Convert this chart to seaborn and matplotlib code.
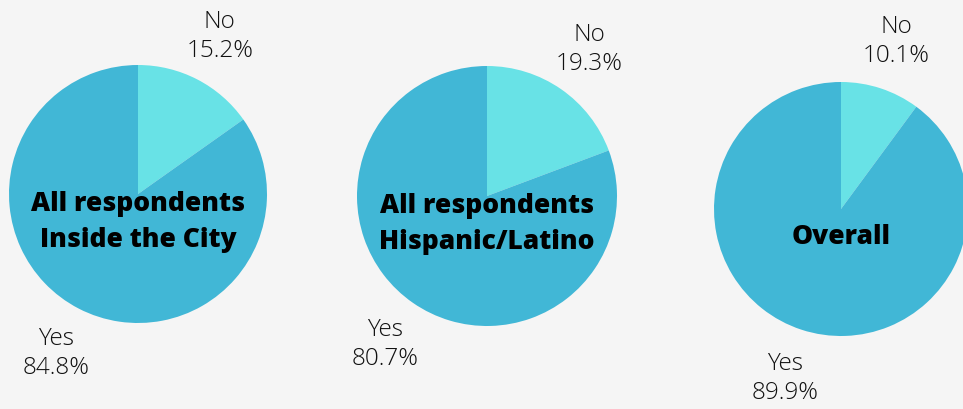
import matplotlib
matplotlib.use("Agg")
import matplotlib.pyplot as plt
import seaborn as sns

# Data
groups = ["All respondents\nInside the City", "All respondents\nHispanic/Latino", "Overall"]
categories = ["No", "Yes"]
no_pct = [15.2, 19.3, 10.1]
yes_pct = [84.8, 80.7, 89.9]

sns.set_theme(style="white")
plt.rcParams["font.family"] = ["Open Sans", "DejaVu Sans"]

bg = "#f5f5f5"
colors = ["#68e2e6", "#41b7d6"]

W, H = 963, 410
fig = plt.figure(figsize=(W / 100, H / 100), dpi=100, facecolor=bg)
ax = fig.add_axes([0, 0, 1, 1])
ax.set_facecolor(bg)

# layout (pixel centres, radii)
centers = [(138, H - 195), (487, H - 197), (841, H - 210)]
radii = [129, 130, 127]
label_dist = [1.38, 1.38, 1.40]

for g, n, y, c, r, ld in zip(groups, no_pct, yes_pct, centers, radii, label_dist):
    labels = [f"{cat}\n{v:.1f}%" for cat, v in zip(categories, [n, y])]
    wedges, texts = ax.pie(
        [n, y], colors=colors, startangle=90, counterclock=False,
        center=c, radius=r, labels=labels, labeldistance=ld,
        wedgeprops=dict(linewidth=0), frame=True,
        textprops=dict(fontsize=17.5, color="#111111", linespacing=1.28,
                       fontweight="light"),
    )
    for t in texts:
        t.set_ha("center")
        t.set_va("center")
    ax.text(c[0], c[1] - 27, g, ha="center", va="center", fontsize=19,
            fontweight=800, fontstretch="normal", color="#000000",
            linespacing=1.5)

ax.set_xlim(0, W)
ax.set_ylim(0, H)
ax.set_aspect("equal")
ax.axis("off")

fig.savefig("out.png", dpi=100, facecolor=bg)
